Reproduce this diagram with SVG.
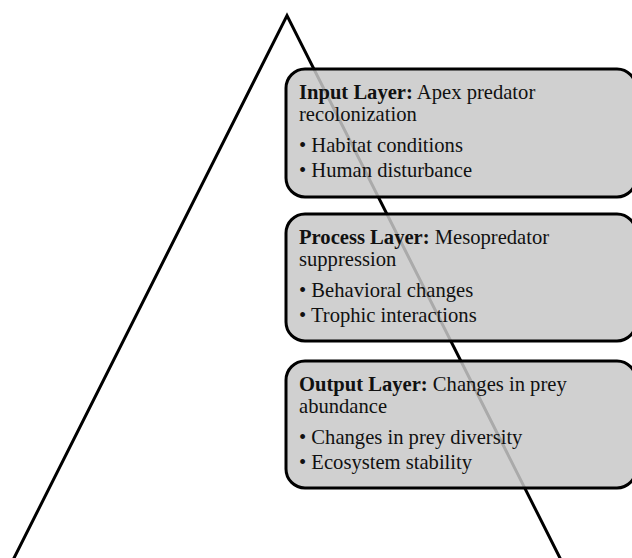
<svg xmlns="http://www.w3.org/2000/svg" width="632" height="558" viewBox="0 0 632 558">
<style>
.box{fill:#c8c8c8;fill-opacity:0.85;stroke:#000;stroke-width:3}
.t{font-family:"Liberation Serif","Times New Roman",serif;font-size:20.6px;fill:#111}
.b{font-weight:bold}
</style>
<rect width="632" height="558" fill="#fff"/>
<g id="pyramid">
<polyline points="9,568 287,15.5 565,568" fill="none" stroke="#000" stroke-width="3" stroke-linejoin="miter"/>
</g>
<g id="connectors"></g>
<g id="input-layer">
<rect class="box" x="286" y="69" width="350" height="128" rx="19"/>
<text class="t" x="299" y="99"><tspan class="b">Input Layer:</tspan> Apex predator</text>
<text class="t" x="299" y="121">recolonization</text>
<text class="t" x="299" y="152">• Habitat conditions</text>
<text class="t" x="299" y="177">• Human disturbance</text>
</g>
<g id="process-layer">
<rect class="box" x="286" y="214" width="350" height="127" rx="19"/>
<text class="t" x="299" y="244"><tspan class="b">Process Layer:</tspan> Mesopredator</text>
<text class="t" x="299" y="266">suppression</text>
<text class="t" x="299" y="297">• Behavioral changes</text>
<text class="t" x="299" y="322">• Trophic interactions</text>
</g>
<g id="output-layer">
<rect class="box" x="286" y="361" width="350" height="127" rx="19"/>
<text class="t" x="299" y="391"><tspan class="b">Output Layer:</tspan> Changes in prey</text>
<text class="t" x="299" y="413">abundance</text>
<text class="t" x="299" y="444">• Changes in prey diversity</text>
<text class="t" x="299" y="469">• Ecosystem stability</text>
</g>
</svg>
